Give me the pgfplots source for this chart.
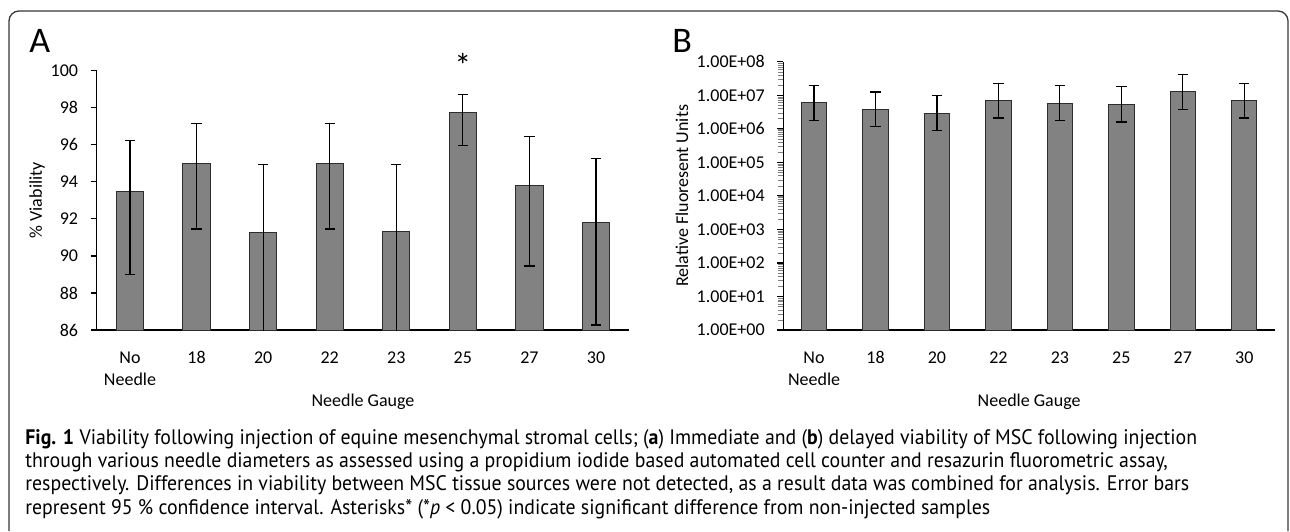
\documentclass[border=0pt]{standalone}
\usepackage{fontspec}
\setmainfont{Carlito}
\newfontfamily\capfont{PT Sans}
\usepackage{pgfplots}
\pgfplotsset{compat=1.18}
\usepackage{pgfplotstable}

\definecolor{barfill}{RGB}{130,130,130}
\definecolor{baredge}{RGB}{45,45,45}
\definecolor{framec}{RGB}{55,55,55}

% immediate viability (%), error bars as +/- from the mean
\pgfplotstableread{
x y ep em
0 93.50 2.75 4.50
1 95.00 2.15 3.55
2 91.25 3.70 6.00
3 95.00 2.15 3.55
4 91.30 3.65 6.00
5 97.72 1.00 1.76
6 93.82 2.64 4.36
7 91.83 3.43 5.56
}\viab

% delayed viability (RFU)
\pgfplotstableread{
x y ep em
0 6.0e6  1.40e7 4.20e6
1 3.8e6  8.70e6 2.65e6
2 2.95e6 6.85e6 2.05e6
3 6.9e6  1.57e7 4.80e6
4 5.8e6  1.32e7 4.00e6
5 5.4e6  1.26e7 3.80e6
6 1.25e7 2.85e7 8.70e6
7 6.9e6  1.57e7 4.80e6
}\rfu

\pgfplotsset{
  panel/.style={
    scale only axis,
    anchor=south west,
    axis x line=bottom, axis y line=left,
    axis line style={-, black, line width=0.6pt},
    xmin=-0.5, xmax=7.5,
    xtick={0,...,7},
    xticklabels={{\begin{tabular}[t]{@{}c@{}}No\\Needle\end{tabular}},18,20,22,23,25,27,30},
    major x tick style={draw=none},
    ytick align=outside, ytick pos=left,
    major tick length=3pt,
    major y tick style={black, line width=0.6pt},
    tick label style={font=\fontsize{9}{11}\selectfont},
    xticklabel style={anchor=base, yshift=-15.3pt},
    yticklabel style={xshift=-2.8pt},
    label style={font=\fontsize{9}{11}\selectfont},
    clip mode=individual,
    /pgf/number format/assume math mode=true,
  },
  bars/.style={
    ybar, fill=barfill, draw=baredge, line width=0.5pt,
    error bars/.cd, y dir=both, y explicit,
    error bar style={black, line width=0.6pt},
    error mark options={black, line width=0.6pt, mark size=2.6pt, rotate=90},
    /pgfplots/.cd,
  },
}

% caption font scaled so that its first words span what they span in the reference
\newsavebox\capbox
\sbox\capbox{\capfont\fontsize{10.5}{11.6}\selectfont\textbf{Fig. 1} Viability following injection}
\pgfmathsetmacro\capfac{144pt/\the\wd\capbox}
\newcommand\capline[1]{\scalebox{\capfac}[1]{#1}}

\begin{document}
\begin{tikzpicture}
\useasboundingbox (0,0) rectangle (645pt,-265.5pt);

% panel A
\begin{axis}[panel,
  at={(48.35pt,-165pt)}, width=266.3pt, height=129.65pt,
  ymin=86, ymax=100, ytick={86,88,...,100},
  xlabel={Needle Gauge},
  xlabel style={at={(axis description cs:0.5,-0.278)}, anchor=center},
  ylabel={\% Viability},
  ylabel style={at={(axis description cs:-0.112,0.5)}, anchor=center},
]
\addplot[bars, bar width=13.65pt] table[x=x, y=y, y error plus=ep, y error minus=em] {\viab};
\node[font=\fontsize{17}{17}\selectfont] at (axis cs:5,100.3) {*};
\end{axis}

% panel B
\begin{axis}[panel,
  at={(391.65pt,-165pt)}, width=245.85pt, height=134.15pt,
  ymode=log, ymin=1, ymax=1e8,
  ytick={1,10,100,1000,10000,100000,1000000,10000000,100000000},
  yticklabels={1.00E+00,1.00E+01,1.00E+02,1.00E+03,1.00E+04,1.00E+05,1.00E+06,1.00E+07,1.00E+08},
  minor ytick={}, 
  xlabel={Needle Gauge},
  xlabel style={at={(axis description cs:0.5,-0.268)}, anchor=center},
  ylabel={Relative Fluoresent Units},
  ylabel style={at={(axis description cs:-0.206,0.5)}, anchor=center},
]
\addplot[bars, bar width=12.65pt] table[x=x, y=y, y error plus=ep, y error minus=em] {\rfu};
\end{axis}

% panel letters
\node[anchor=base west, inner sep=0pt, font=\fontsize{18}{18}\selectfont] at (14.5pt,-26.15pt) {A};
\node[anchor=base west, inner sep=0pt, font=\fontsize{18}{18}\selectfont] at (336pt,-26pt) {B};

% figure frame
\draw[framec, line width=0.65pt] (4.5pt,-265.5pt) -- (4.5pt,-10.5pt) arc[start angle=180, end angle=90, radius=5pt]
  -- (639pt,-5.5pt) arc[start angle=90, end angle=0, radius=5pt] -- (644pt,-265.5pt);

% caption (base anchor = baseline of last line)
\node[anchor=base west, inner sep=0pt, align=left, font=\capfont\fontsize{10.5}{11.6}\selectfont] at (12.5pt,-257pt)
{\capline{\textbf{Fig. 1} Viability following injection of equine mesenchymal stromal cells; (\textbf{a}) Immediate and (\textbf{b}) delayed viability of MSC following injection}\\
\capline{through various needle diameters as assessed using a propidium iodide based automated cell counter and resazurin fluorometric assay,}\\
\capline{respectively. Differences in viability between MSC tissue sources were not detected, as a result data was combined for analysis. Error bars}\\
\capline{represent 95 \% confidence interval. Asterisks* (*\textit{p} < 0.05) indicate significant difference from non-injected samples}};
\end{tikzpicture}
\end{document}
